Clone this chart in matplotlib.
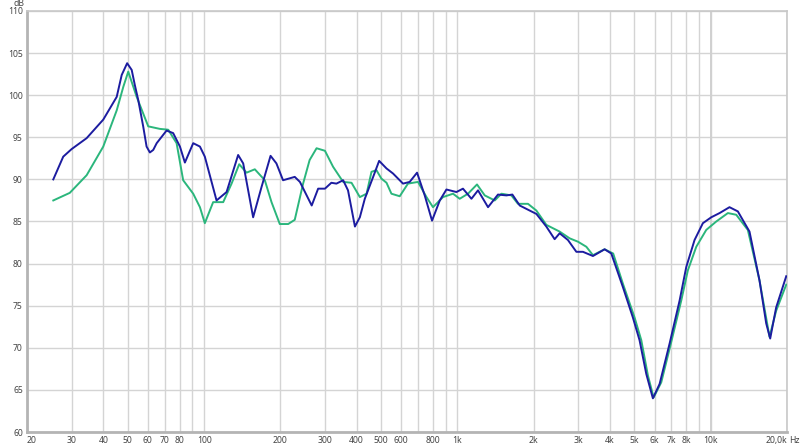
import matplotlib
matplotlib.use("Agg")
import matplotlib.pyplot as plt

# measured response, blue trace (Hz, dB)
blue_freq = [25.4, 27.8, 30.0, 34.4, 40.0, 45.2, 47.3, 49.7, 51.8, 53.3, 55.0, 57.5, 59.3,
             61.1, 63.0, 65.0, 71.1, 75.5, 80.3, 84.0, 90.6, 96.3, 100.7, 112, 122.7,
             136.3, 142.7, 156.2, 168.6, 183, 193, 205, 228, 239, 266, 282, 300, 318,
             333, 354, 370, 394, 412, 431, 465, 491, 525, 557, 610, 648, 693, 743, 794,
             852, 905, 991, 1052, 1136, 1206, 1321, 1446, 1561, 1648, 1762, 1929, 2050,
             2244, 2420, 2533, 2731, 2948, 3130, 3428, 3811, 4050, 4502, 4928, 5236,
             5566, 5910, 6282, 6880, 7534, 8006, 8632, 9310, 10046, 10834, 11860,
             12794, 14224, 15578, 16556, 17166, 18126, 19860]
blue_db = [90.0, 92.7, 93.6, 94.9, 97.1, 99.8, 102.4, 103.8, 103.0, 101.2, 99.4, 96.3, 93.9,
           93.2, 93.5, 94.3, 95.8, 95.5, 93.9, 92.0, 94.3, 93.9, 92.7, 87.5, 88.5,
           92.9, 91.9, 85.5, 89.1, 92.8, 91.9, 89.9, 90.3, 89.7, 86.9, 88.9, 88.9, 89.6,
           89.5, 89.9, 88.7, 84.4, 85.5, 87.7, 90.3, 92.2, 91.3, 90.7, 89.5, 89.7, 90.8, 88.1, 85.1,
           87.5, 88.8, 88.5, 88.9, 87.7, 88.7, 86.7, 88.2, 88.1, 88.2, 86.9, 86.3, 85.9,
           84.4, 82.9, 83.6, 82.8, 81.4, 81.4, 80.9, 81.7, 81.2, 77.2, 73.6, 70.9,
           66.9, 64.0, 65.7, 70.5, 75.6, 79.6, 82.8, 84.8, 85.5, 86.0, 86.7,
           86.2, 83.8, 78.0, 72.9, 71.1, 74.8, 78.5]

# measured response, green trace (Hz, dB)
green_freq = [25.4, 29.5, 34.4, 40, 45.2, 48.0, 50.2, 54.2, 60.2, 66.9, 72.2, 77.9, 82.7,
              90.6, 96.3, 100.7, 108.6, 119, 128.4, 137.6, 147.1, 158.6, 173.7, 184.6,
              199, 214.8, 228, 246, 261, 278, 300, 323, 354, 382, 412, 438, 458, 479,
              501, 525, 549, 592, 638, 699, 755, 801, 877, 961, 1021, 1101, 1195, 1282,
              1404, 1492, 1633, 1734, 1899, 2050, 2244, 2533, 2774, 2992, 3228, 3428,
              3811, 4120, 4502, 5004, 5320, 5650, 5950, 6378, 6986, 7648, 8122, 8768,
              9600, 10514, 11684, 12608, 14010, 15578, 17062, 18126, 19860]
green_db = [87.5, 88.4, 90.5, 93.9, 98.2, 101.0, 102.8, 99.8, 96.3, 96.0, 95.9, 94.3, 89.9,
            88.3, 86.7, 84.8, 87.3, 87.3, 89.5, 91.8, 90.8, 91.2, 89.9, 87.3,
            84.7, 84.7, 85.2, 89.5, 92.3, 93.7, 93.4, 91.5, 89.7, 89.6, 87.9, 88.3, 90.9, 91.1,
            90.1, 89.6, 88.3, 88.0, 89.5, 89.7, 87.9, 86.7, 87.9, 88.3, 87.7, 88.3, 89.4, 88.1,
            87.5, 88.3, 88.1, 87.1, 87.1, 86.3, 84.6, 83.8, 83.0, 82.6, 82.0, 81.0,
            81.7, 81.2, 77.6, 73.6, 70.9, 66.7, 64.1, 65.9, 70.7, 75.6, 79.2, 82.0,
            84.0, 85.0, 86.0, 85.8, 84.0, 78.0, 71.3, 74.4, 77.5]

# axis ticks / grid
x_ticks = [20, 30, 40, 50, 60, 70, 80, 90, 100, 200, 300, 400, 500, 600, 700, 800, 900,
           1000, 2000, 3000, 4000, 5000, 6000, 7000, 8000, 9000, 10000, 20000]
x_labels = ['20', '30', '40', '50', '60', '70', '80', '', '100', '200', '300', '400', '500',
            '600', '', '800', '', '1k', '2k', '3k', '4k', '5k', '6k', '7k', '8k', '', '10k',
            '20,0k']
y_ticks = list(range(60, 111, 5))

plt.rcParams['font.family'] = ['Noto Sans', 'DejaVu Sans']

fig = plt.figure(figsize=(8, 4.48), dpi=100)
ax = fig.add_axes([27 / 800, 1 - 432 / 448, 760 / 800, 421 / 448])

ax.plot(green_freq, green_db, color='#2bb67c', lw=1.4, zorder=3)
ax.plot(blue_freq, blue_db, color='#1c1ca0', lw=1.4, zorder=4)

ax.set_xscale('log')
ax.set_xlim(20, 20000)
ax.set_ylim(60, 110)
ax.minorticks_off()
ax.set_xticks(x_ticks)
ax.set_xticklabels(x_labels)
ax.set_yticks(y_ticks)
ax.tick_params(length=0, labelsize=6.2, colors='#444444', pad=3)
ax.get_xticklabels()[0].set_ha('left')
ax.get_xticklabels()[-1].set_ha('right')

ax.grid(True, color='#d4d4d4', lw=1.0, zorder=0)
ax.axvline(10000, color='#d0d0d0', lw=1.4, zorder=1)
ax.set_axisbelow(True)

for side in ['left', 'bottom']:
    ax.spines[side].set_color('#b4b4b4')
    ax.spines[side].set_linewidth(2)
for side in ['top', 'right']:
    ax.spines[side].set_color('#c8c8c8')
    ax.spines[side].set_linewidth(1.2)

fig.text(19 / 800, 1 - 3 / 448, 'dB', fontsize=6.2, color='#444444', ha='center', va='center')
fig.text(789 / 800, 1 - 440 / 448, 'Hz', fontsize=6.2, color='#444444', ha='left', va='center')

plt.savefig('out.png', dpi=100)
plt.close()
